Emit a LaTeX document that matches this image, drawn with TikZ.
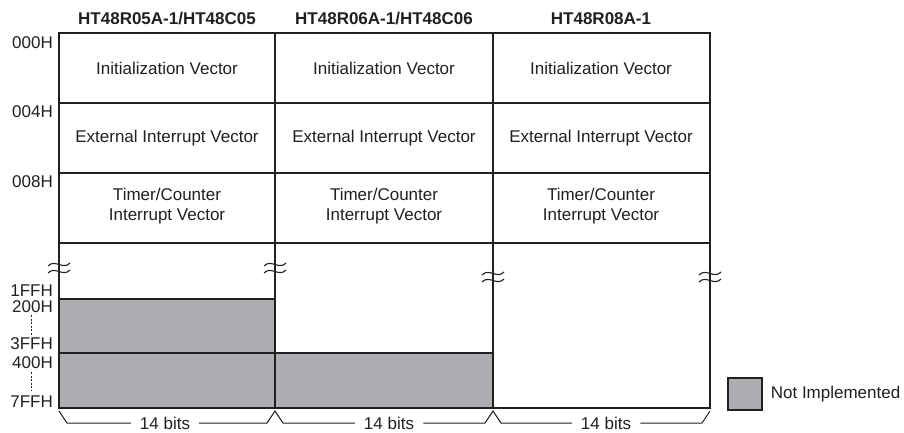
\documentclass[tikz,border=0pt]{standalone}
\usepackage{fontspec}
\setmainfont{Liberation Sans}
\definecolor{ink}{HTML}{231F20}
\definecolor{nogray}{HTML}{ADAEB1}
\begin{document}
\begin{tikzpicture}[x=1pt,y=-1pt,
  txt/.style={font=\fontsize{17}{20}\selectfont, text=ink, inner sep=0pt},
  hdr/.style={font=\fontsize{17}{20}\selectfont\bfseries, text=ink, inner sep=0pt},
  addr/.style={txt, anchor=east},
  gridline/.style={draw=ink, line width=1.3pt},
  wavy/.style={draw=ink, line width=1.1pt},
  brk/.style={draw=ink, line width=1pt},
  dotv/.style={draw=ink, line width=1pt, dash pattern=on 2pt off 1.5pt},
  squig/.pic={
    \draw[wavy] (-11,-2) .. controls (-4,-9.5) and (4,2.5) .. (11,-5);
    \draw[wavy] (-11,5) .. controls (-4,-2.5) and (4,9.5) .. (11,2);
  }]
\useasboundingbox (0,0) rectangle (904,432);

% gray areas
\fill[nogray] (59,299) rectangle (275,408);
\fill[nogray] (275,353) rectangle (493,408);

% grid
\draw[gridline] (59,33) rectangle (710,408);
\draw[gridline] (275,33) -- (275,408);
\draw[gridline] (493,33) -- (493,408);
\draw[gridline] (59,103) -- (710,103);
\draw[gridline] (59,173) -- (710,173);
\draw[gridline] (59,243) -- (710,243);
\draw[gridline] (59,299) -- (275,299);
\draw[gridline] (59,353) -- (493,353);

% break marks
\pic at (59,268) {squig};
\pic at (275,268) {squig};
\pic at (493,277) {squig};
\pic at (710,277) {squig};

% headers
\node[hdr] (h1) at (167,19) {HT48R05A-1/HT48C05};
\node[hdr] (h2) at (384,19) {HT48R06A-1/HT48C06};
\node[hdr] (h3) at (601,19) {HT48R08A-1};

% cell texts
\foreach \c/\x in {1/167,2/384,3/601}{
  \node[txt] (iv\c) at (\x,68) {Initialization Vector};
  \node[txt] (ev\c) at (\x,138) {External Interrupt Vector};
  \node[txt, align=center] (tv\c) at (\x,206) {Timer/Counter\\Interrupt Vector};
}

% addresses
\node[addr] (a000) at (53,43) {000H};
\node[addr] (a004) at (53,112) {004H};
\node[addr] (a008) at (53,182) {008H};
\node[addr] (a1ff) at (53,290.5) {1FFH};
\node[addr] (a200) at (53,307) {200H};
\node[addr] (a3ff) at (53,344) {3FFH};
\node[addr] (a400) at (53,363) {400H};
\node[addr] (a7ff) at (53,402) {7FFH};
\draw[dotv] (31,315) -- (31,335);
\draw[dotv] (31,372) -- (31,391);

% bit-width brackets
\coordinate (p0) at (59,411);
\coordinate (p1) at (275,411);
\coordinate (p2) at (493,411);
\coordinate (p3) at (710,411);
\node[txt] (b1) at (165,423) {14 bits};
\node[txt] (b2) at (389,423) {14 bits};
\node[txt] (b3) at (606,423) {14 bits};
\draw[brk] (p0) -- (67,423) -- ([xshift=-9pt]b1.west);
\draw[brk] ([xshift=9pt]b1.east) -- (267,423) -- (p1) -- (283,423) -- ([xshift=-9pt]b2.west);
\draw[brk] ([xshift=9pt]b2.east) -- (485,423) -- (p2) -- (501,423) -- ([xshift=-9pt]b3.west);
\draw[brk] ([xshift=9pt]b3.east) -- (702,423) -- (p3);

% legend
\node[draw=ink, line width=1.3pt, fill=nogray, minimum width=34pt, minimum height=32pt, inner sep=0pt] (lg) at (745,394) {};
\node[txt, anchor=west] (lgt) at ([xshift=8pt]lg.east) {Not Implemented};
\end{tikzpicture}
\end{document}
